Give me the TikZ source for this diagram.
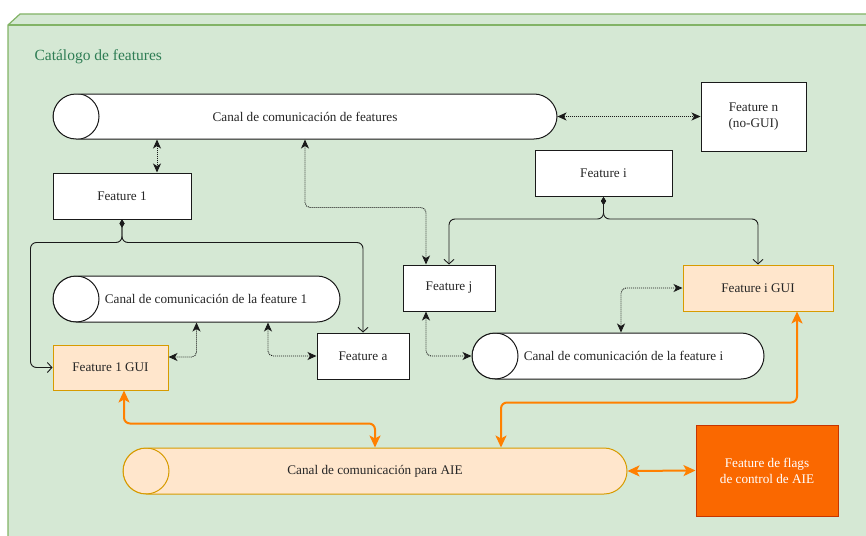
\documentclass[tikz,border=0pt]{standalone}
\usepackage{fontspec}
\setmainfont{Liberation Serif}
\usetikzlibrary{arrows.meta}

\definecolor{verdefondo}{HTML}{D5E8D4}
\definecolor{verdeborde}{HTML}{82B366}
\definecolor{verdetexto}{HTML}{2E7D54}
\definecolor{guifondo}{HTML}{FFE6CC}
\definecolor{guiborde}{HTML}{D79B00}
\definecolor{naranja}{HTML}{FF8000}
\definecolor{flagsfondo}{HTML}{FA6800}
\definecolor{flagsborde}{HTML}{C73500}
\definecolor{linea}{HTML}{1A1A1A}

\tikzset{
  texto/.style={font=\fontsize{13.2}{16}\selectfont, text=black!85},
  feature/.style={texto, draw=linea, line width=1pt, fill=white, minimum width=#1, minimum height=46pt, inner sep=2pt, align=center},
  gui/.style={feature=#1, draw=guiborde, fill=guifondo},
  canal/.style={texto, draw=linea, line width=1pt, fill=white, minimum width=#1, minimum height=46pt, rounded corners=23pt,
    path picture={\draw[linea, line width=1pt] ([xshift=23pt]path picture bounding box.west) circle[radius=23pt];}},
  canalaie/.style={canal=#1, draw=guiborde, fill=guifondo,
    path picture={\draw[guiborde, line width=1pt] ([xshift=23pt]path picture bounding box.west) circle[radius=23pt];}},
  punteada/.style={draw=linea, line width=0.9pt, dash pattern=on 1pt off 1pt, rounded corners=5pt,
    {Stealth[length=9pt,width=8pt,inset=2.5pt]}-{Stealth[length=9pt,width=8pt,inset=2.5pt]}},
  rama/.style={draw=linea, line width=0.9pt, rounded corners=6pt,
    {Diamond[length=8pt,width=5pt]}-{Straight Barb[length=4.5pt,width=10pt]}},
  aie/.style={draw=naranja, line width=2pt, rounded corners=6pt,
    {Stealth[length=12pt,width=11pt,inset=3pt]}-{Stealth[length=12pt,width=11pt,inset=3pt]}}
}

\begin{document}
\begin{tikzpicture}[x=1pt, y=-1pt]
  \useasboundingbox (0,0) rectangle (866,535);
  % contenedor del catalogo
  \begin{scope}
    \clip (0,0) rectangle (866,535);
    \fill[verdefondo] (8,25) -- (20,14) -- (880,14) -- (880,550) -- (8,550) -- cycle;
    \draw[verdeborde, line width=1.2pt] (880,14) -- (20,14) -- (8,25) -- (8,550);
    \draw[verdeborde, line width=1.2pt] (8,25) -- (880,25);
  \end{scope}
  \node[anchor=west, text=verdetexto, font=\fontsize{15.5}{18}\selectfont] (catalogo) at (31,57) {Catálogo de features};

  % canales
  \node[canal=504pt, minimum height=45pt] (canalF) at (305,116.5) {Canal de comunicación de features};
  \node[canal=287pt] (canal1) at (196.5,299) {\hspace*{19pt}Canal de comunicación de la feature 1};
  \node[canal=292pt] (canalI) at (618,356) {\hspace*{11pt}Canal de comunicación de la feature i};
  \node[canalaie=504pt] (canalAIE) at (375,471) {Canal de comunicación para AIE};

  % features
  \node[feature=105pt, minimum height=69pt] (featN) at (753.5,116.5) {Feature n\\(no-GUI)};
  \node[feature=138pt] (feat1) at (122,196) {Feature 1};
  \node[feature=92pt] (featA) at (363,356) {Feature a};
  \node[feature=92pt] (featJ) at (449,288) {Feature j};
  \node[feature=137pt] (featI) at (603.5,173.5) {Feature i};
  \node[gui=115pt, minimum height=45pt] (gui1) at (110.5,367.5) {Feature 1 GUI};
  \node[gui=150pt] (guiI) at (758,288) {Feature i GUI};
  \node[feature=142pt, minimum height=91pt, draw=flagsborde, fill=flagsfondo, text=white] (flags) at (767,470.5) {Feature de flags\\de control de AIE};

  % comunicacion por canales
  \draw[punteada] (canalF.east) -- (featN.west);
  \draw[punteada] ([xshift=35pt]feat1.north |- canalF.south) -- ([xshift=35pt]feat1.north);
  \draw[punteada] (canalF.south) -- ++(0,68) -| ([xshift=-23pt]featJ.north);
  \draw[punteada] ([yshift=10.5pt]gui1.east) -| (canal1.south);
  \draw[punteada] ([xshift=71.5pt]canal1.south) |- (featA.west);
  \draw[punteada] ([xshift=-23pt]featJ.south) |- (canalI.west);
  \draw[punteada] ([xshift=3pt]canalI.north) |- (guiI.west);

  % dependencias
  \draw[rama] (feat1.south) -- ++(0,23) -| ([xshift=-22pt]gui1.west) -- (gui1.west);
  \draw[rama] (feat1.south) -- ++(0,23) -| (featA.north);
  \draw[rama] (featI.south) -- ++(0,22) -| (featJ.north);
  \draw[rama] (featI.south) -- ++(0,22) -| (guiI.north);

  % canal de AIE
  \draw[aie] ([xshift=13.5pt]gui1.south) -- ++(0,33) -| (canalAIE.north);
  \draw[aie] ([xshift=39pt]guiI.south) -- ++(0,91) -| ([xshift=126pt]canalAIE.north);
  \draw[aie] (canalAIE.east) -- (flags.west);
\end{tikzpicture}
\end{document}
